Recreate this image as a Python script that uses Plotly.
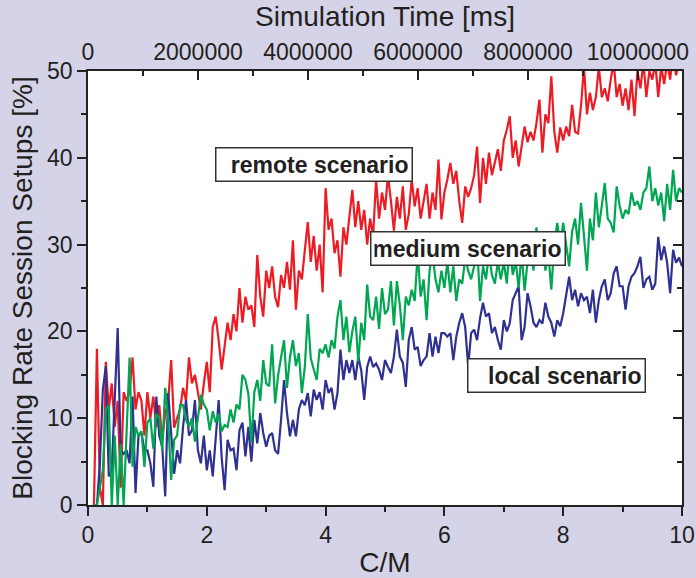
import plotly.graph_objects as go

# C/M samples start at 0.10 with step 0.05
x_start = 0.10
x_step = 0.05

red = [
    0, 18, 2, 0, 16.5, 11, 14, 9, 12, 2, 13, 12, 13, 17, 11, 13, 12, 8,
    13, 10, 12.5, 9, 11.5, 7.5, 10.5, 12, 16.7, 8.9, 10, 11, 13.5, 12, 17, 14, 15, 13, 11, 14,
    16.5, 13, 20.5, 21.7, 19, 15.6, 18, 21, 19, 22, 20, 25, 21, 24, 22.5, 23, 20.5, 28.8, 24, 21.7,
    27, 25, 27.5, 24, 22.8, 26.5, 25, 28, 24.8, 30.5, 22.5, 27, 26, 29, 32.6, 28, 31, 27, 30, 24.5,
    36.5, 31.7, 33, 29, 30.5, 26.3, 32, 30, 33, 36.3, 32, 35, 31.7, 34, 30, 33, 31, 37.5, 33, 36,
    34, 38, 35, 31.6, 35.5, 33, 36.7, 31.7, 33.5, 37.5, 34.4, 36.5, 33, 35, 37, 33, 36, 34, 39.8, 32.9,
    36, 37.5, 39.4, 37, 38.5, 35, 32.5, 36.7, 35.5, 36.5, 38, 41.3, 34.8, 40, 37, 40.6, 38, 39.5, 41, 38.5,
    42, 43.2, 44.8, 40, 42, 39, 41.5, 43.6, 41.8, 43, 42, 44, 46.7, 40.6, 45, 44, 49.4, 43, 40.6, 43.5,
    42, 43.6, 42.5, 46.1, 43, 42.8, 46, 50.5, 45, 47.5, 45.5, 47, 50.5, 47, 48, 46.5, 49, 51, 47, 48.5,
    46, 48, 45.5, 49, 44.8, 50, 48, 51, 47, 50, 49, 51, 47, 50.5, 48.5, 51, 49, 52, 49.5, 51,
    50.5,
]

green = [
    0, 0, 2, 4, 11, 11.5, 0, 8, 0, 7, 0, 8.3, 17, 4.4, 9, 8, 8.5, 4.4,
    9.5, 10, 6.5, 10.5, 10, 6.3, 13.5, 9.8, 2.9, 7.5, 8, 11.5, 11.5, 9.8, 9, 10, 7.3, 10, 12.7, 11.6,
    11, 8.6, 10.8, 9.5, 10.5, 8.5, 9.2, 9, 11, 9.5, 11.6, 11, 15, 14.4, 12.8, 7.2, 13, 14.4, 12, 16.7,
    14, 13.7, 18.5, 11.7, 14.9, 17, 19, 13.5, 17, 19, 16, 17.5, 12.9, 15.9, 22, 16.9, 15.5, 14.4, 18, 17.5,
    18.5, 17, 19, 18, 21.7, 23.6, 19, 21.7, 17.6, 20, 21.7, 16.5, 21, 19, 25.4, 21.7, 21.3, 24, 20.3, 25,
    22, 22.5, 25.8, 20.7, 25.8, 23, 19, 24, 23, 24.8, 23.5, 29, 24, 26, 21.3, 27, 29, 26, 24.5, 27,
    25, 28, 24.5, 27.5, 23.5, 26, 25.5, 28.5, 27, 26, 27.5, 30, 23.5, 27.5, 26, 29, 26.5, 25.5, 28, 26,
    28, 25.5, 30, 26.5, 28, 25, 29, 24.7, 28, 29, 27, 32, 28, 30, 27, 29, 24.8, 30, 32.5, 30,
    32.5, 30, 27.5, 31.5, 33, 30, 34.8, 31, 27, 33, 30.5, 36, 32, 34.5, 37.1, 33, 32.5, 31.4, 36.7, 34.5,
    33, 34, 33.5, 36, 34.5, 35, 34, 36, 36.5, 39, 35, 36.5, 34.5, 36, 32.7, 37, 34, 38.6, 35, 36.5,
    36,
]

blue = [
    0, 0, 4.8, 13.3, 16, 3.3, 4, 12.9, 20.4, 6.3, 5.9, 6.3, 4.8, 12.5, 1.4, 8, 8.3, 6.3,
    6.3, 4.8, 2.1, 12.5, 8, 6.7, 1, 12.9, 8, 3.6, 6.3, 4.8, 9, 12.1, 8, 8.6, 12.1, 6.3, 4.8, 8,
    4, 6.3, 3.3, 8, 12.1, 5.5, 1.7, 7.5, 6.3, 6.5, 4, 8.6, 9.5, 5.6, 9, 5, 9.8, 7.1, 10.6, 8.3,
    6.7, 8, 8.3, 6.3, 5.9, 9.8, 14.4, 10.6, 7.9, 9.8, 7.9, 11, 12.1, 11.5, 12.9, 10.2, 13.3, 12.1, 13, 11,
    14.4, 12.9, 13.5, 11, 12.9, 17.9, 14.4, 16.7, 15.2, 16.7, 14.4, 17.1, 15.5, 12.1, 15.9, 17.1, 15.9, 16.3, 15.6, 14.4,
    16.7, 15.9, 15.2, 17.1, 20.2, 17.1, 16.4, 13.6, 19, 20.5, 17.9, 18.2, 16, 16.7, 17.1, 19.8, 17.1, 19.4, 17.5, 19.8,
    19.8, 19.4, 19.8, 16.7, 19.4, 21, 22.1, 20.5, 16, 19.8, 20.2, 19, 21.5, 23.3, 21.7, 22.1, 19.8, 20.5, 19, 17.9,
    21.3, 20, 20.9, 23.6, 24.4, 25.2, 19, 20.5, 24.4, 22.9, 21, 20.5, 21.3, 20.9, 23.3, 21.7, 21, 19.4, 21.3, 20.6,
    22.1, 24.4, 26.3, 23.6, 24.8, 22.9, 24.4, 23.6, 24, 22.1, 24.8, 21, 23.6, 25.2, 26, 23.6, 24.4, 26.7, 27.5, 25.2,
    25.2, 22.5, 25.2, 26.3, 26.7, 27.5, 28.6, 25, 26, 26.3, 24.8, 25.5, 30.9, 28.2, 29.8, 27.9, 24.4, 29.4, 27.9, 28.5,
    27.5,
]

labels = ["remote scenario", "medium scenario", "local scenario"]
label_x = [3.81, 6.4, 7.88]
label_y = [39.2, 29.6, 14.9]
label_w = [189, 187, 170]

x_title = "C/M"
y_title = "Blocking Rate Session Setups [%]"
top_title = "Simulation Time [ms]"
top_range = [0, 10800000]

def xs(n):
    return [round(x_start + x_step * i, 2) for i in range(n)]

FONT = "Liberation Sans, Arial, sans-serif"
TXT = "#231f20"
BG = "#d5d3e8"

fig = go.Figure()
fig.add_trace(go.Scatter(x=xs(len(red)), y=red, mode="lines",
                         line=dict(color="#ed1c24", width=2.2), showlegend=False))
fig.add_trace(go.Scatter(x=xs(len(blue)), y=blue, mode="lines",
                         line=dict(color="#2e3192", width=2.2), showlegend=False))
fig.add_trace(go.Scatter(x=xs(len(green)), y=green, mode="lines",
                         line=dict(color="#00a651", width=2.2), showlegend=False))
# invisible carrier so the secondary (top / right) axes are drawn
fig.add_trace(go.Scatter(x=top_range, y=[None, None], xaxis="x2", yaxis="y2",
                         mode="lines", line=dict(width=0), hoverinfo="skip",
                         showlegend=False))

for t, ax_, ay_, w_ in zip(labels, label_x, label_y, label_w):
    fig.add_annotation(x=ax_, y=ay_, xref="x", yref="y", text="<b>%s</b>" % t,
                       showarrow=False, font=dict(family=FONT, size=23, color=TXT),
                       bgcolor="white", bordercolor="#333333", borderwidth=1.5,
                       borderpad=3, width=w_, align="right")

axis_common = dict(showgrid=False, zeroline=False, showline=True, linecolor="#222",
                   linewidth=1.5, tickwidth=1.5, tickcolor="#222", automargin=False,
                   tickfont=dict(size=23))

fig.update_layout(
    width=696, height=578,
    margin=dict(l=88, r=14, t=71, b=73, autoexpand=False),
    paper_bgcolor=BG, plot_bgcolor="white",
    font=dict(family=FONT, size=23, color=TXT),
    xaxis=dict(range=[0, 10], dtick=2, tick0=0, ticks="outside", ticklen=9,
               minor=dict(dtick=1, ticks="outside", ticklen=5, tickcolor="#222"),
               title=dict(text=x_title, standoff=16), **axis_common),
    yaxis=dict(range=[0, 50], dtick=10, tick0=0, ticks="outside", ticklen=9,
               minor=dict(dtick=5, ticks="outside", ticklen=5, tickcolor="#222"),
               title=dict(text=y_title, standoff=6), **axis_common),
    xaxis2=dict(range=top_range, overlaying="x", side="top", anchor="y",
                dtick=2000000, tick0=0, tickformat="d", ticks="inside", ticklen=9,
                minor=dict(dtick=1000000, ticks="inside", ticklen=5, tickcolor="#222"),
                title=dict(text=top_title, standoff=4), **axis_common),
    yaxis2=dict(range=[0, 50], overlaying="y", side="right", anchor="x",
                dtick=10, tick0=0, showticklabels=False, ticks="inside", ticklen=9,
                minor=dict(dtick=5, ticks="inside", ticklen=5, tickcolor="#222"),
                **axis_common),
)

fig.write_html("out.html")
